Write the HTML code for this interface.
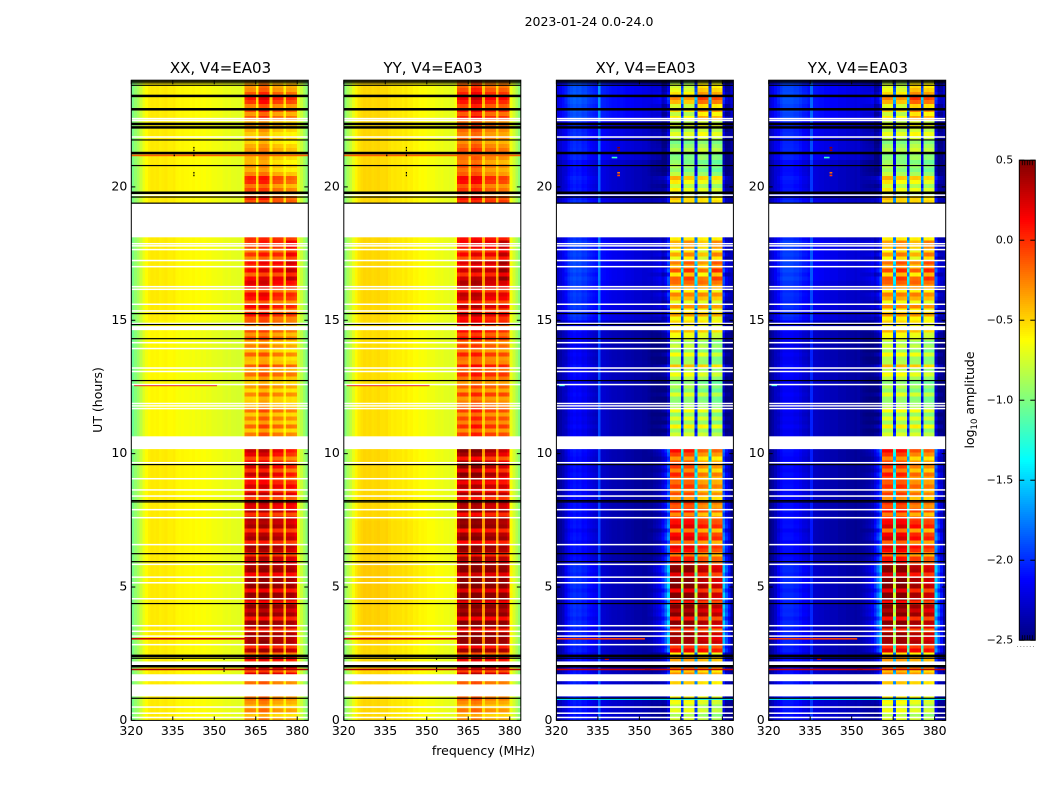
<!DOCTYPE html>
<html lang="en">
<head>
<meta charset="utf-8">
<title>2023-01-24 0.0-24.0</title>
<style>
html,body{margin:0;padding:0;background:#fff;}
svg{display:block;}
text{font-family:"DejaVu Sans","Liberation Sans",sans-serif;fill:#000;}
</style>
</head>
<body>
<svg id="chart" xmlns="http://www.w3.org/2000/svg" width="1050" height="800" viewBox="0 0 1050 800">
<rect x="0" y="0" width="1050" height="800" fill="#fff"/>
<text x="589" y="26" text-anchor="middle" font-size="12.5">2023-01-24 0.0-24.0</text>
<text x="483.5" y="755" text-anchor="middle" font-size="12.5">frequency (MHz)</text>
<text transform="translate(102,400) rotate(-90)" text-anchor="middle" font-size="12.5">UT (hours)</text>
<text transform="translate(974,400) rotate(-90)" text-anchor="middle" font-size="12.5">log<tspan font-size="8.5" dy="3">10</tspan><tspan dy="-3"> amplitude</tspan></text>
<g id="panels"></g>
<g id="colorbar"></g>
</svg>
<script>
// ---- Chart data ----
const panelTitles = ["XX, V4=EA03", "YY, V4=EA03", "XY, V4=EA03", "YX, V4=EA03"];
const xTickLabels = [320, 335, 350, 365, 380];
const yTickLabels = [0, 5, 10, 15, 20];
const colorbarTickLabels = [0.5, 0.0, -0.5, -1.0, -1.5, -2.0, -2.5];
const freqStartMHz = 320;
const freqEndMHz = 384;
const hourEnd = 24;
const rowHours = 0.15;
const colorMin = -2.5;
const colorMax = 0.5;

// Per-channel (1 MHz) baseline spectra, log10 amplitude
const coSpectrumXX = [-1.02,-0.94,-0.88,-0.78,-0.68,-0.62,-0.58,-0.56,-0.57,-0.56,-0.58,-0.57,-0.56,-0.58,-0.58,-0.57,-0.6,-0.61,-0.6,-0.61,-0.61,-0.62,-0.61,-0.63,-0.62,-0.64,-0.63,-0.65,-0.64,-0.66,-0.66,-0.67,-0.66,-0.68,-0.69,-0.68,-0.7,-0.7,-0.71,-0.71,-0.66,-0.04,0,0,-0.02,-0.5,0.02,0.03,0.03,0,-0.5,0,-0.02,-0.02,-0.04,-0.5,-0.05,-0.04,-0.06,-0.1,-0.68,-0.78,-0.88,-0.98];
const coSpectrumYY = [-0.97,-0.87,-0.79,-0.69,-0.6,-0.55,-0.52,-0.5,-0.51,-0.5,-0.52,-0.51,-0.5,-0.52,-0.52,-0.51,-0.54,-0.56,-0.55,-0.56,-0.56,-0.58,-0.56,-0.59,-0.58,-0.61,-0.6,-0.63,-0.62,-0.63,-0.65,-0.65,-0.65,-0.67,-0.68,-0.67,-0.69,-0.69,-0.7,-0.7,-0.64,-0.04,0,0,-0.02,-0.45,0,0.02,0,-0.02,-0.45,-0.02,-0.03,-0.03,-0.04,-0.45,-0.04,-0.04,-0.05,-0.1,-0.66,-0.76,-0.86,-0.96];
const crossSpectrumXY = [-2.45,-2.38,-2.32,-2.2,-2.1,-2.05,-2.02,-2.05,-2.03,-2.08,-2.07,-2.12,-2.15,-2.18,-2.2,-1.9,-2.25,-2.26,-2.28,-2.3,-2.32,-2.32,-2.33,-2.32,-2.33,-2.35,-2.35,-2.36,-2.38,-2.38,-2.38,-2.4,-2.4,-2.38,-2.38,-2.33,-2.3,-2.25,-2.15,-2,-1.75,0,0.02,0.02,0,-1.2,0.02,0.03,0.03,0.02,-1.2,0,0.02,0,-0.02,-1.2,0,0.02,0,-0.02,-1.75,-2.05,-2.2,-2.42];
const crossSpectrumYX = [-2.45,-2.38,-2.3,-2.18,-2.1,-2.05,-2.05,-2.05,-2.05,-2.08,-2.08,-2.12,-2.17,-2.18,-2.22,-2.02,-2.27,-2.28,-2.3,-2.3,-2.32,-2.32,-2.33,-2.33,-2.33,-2.36,-2.36,-2.36,-2.38,-2.38,-2.38,-2.4,-2.38,-2.38,-2.36,-2.33,-2.3,-2.25,-2.15,-2,-1.75,0,0.02,0.02,0,-1.2,0.02,0.03,0.02,0,-1.2,0,0.02,0.02,0,-1.2,0,0.02,0,-0.02,-1.75,-2.05,-2.2,-2.42];
// Response of each channel to the time-varying band level
const coBandGain = [0,0,0,0,0,0,0,0,0,0,0,0,0,0,0,0,0,0,0,0,0,0,0,0,0,0,0,0,0,0,0,0,0,0,0,0,0,0,0,0,0.05,0.9,1,1,1,0.3,1,1,1,1,0.3,1,1,1,1,0.3,1,1,1,0.9,0.05,0,0,0];
const crossBandGain = [0,0,0,0.1,0.1,0.1,0.1,0.1,0.1,0.1,0.1,0.1,0.1,0.1,0.1,0,0,0,0,0,0,0,0,0,0,0,0,0,0,0,0,0,0,0.05,0.1,0.15,0.2,0.25,0.35,0.5,0.6,1,1,1,1,1,1,1,1,1,1,1,1,1,1,1,1,1,1,1,0.6,0.5,0.3,0.1];

// Band level per 0.15 h row, hour 0 first
const bandLevelXX = [
-0.3,-0.45,-0.25,-0.4,-0.3,-0.2,-0.4,-0.3,-0.4,-0.2,
0.1,0.22,-0.1,0.2,0,0.15,-0.2,0.35,0.02,0.4,
0.38,0.42,0.02,0.36,0.44,0.08,0.44,0.3,0.46,0.1,
0.42,0.46,0.12,0.46,0.38,0.46,0.15,0.44,0.4,0.2,
0.32,-0.02,0.34,0.4,0.02,0.38,0.3,0,0.38,0.3,
0.32,-0.05,0.3,0.18,0.28,-0.08,0.25,0,0.2,0.05,
0,0.22,-0.08,0.18,0.05,-0.15,0.12,0.22,0.28,0,
-0.38,-0.18,-0.42,-0.12,-0.4,-0.2,-0.42,-0.15,-0.35,-0.42,
-0.45,-0.22,-0.48,-0.28,-0.45,-0.38,-0.15,-0.35,-0.1,-0.4,
-0.42,-0.15,-0.44,-0.25,-0.4,-0.12,-0.3,-0.1,-0.25,-0.12,
-0.15,0.08,-0.15,0.12,-0.2,0.05,0.12,-0.15,0.12,0.2,
0.25,-0.05,0.25,0.08,0.2,-0.15,0.1,-0.15,0.05,0.1,
0,0,0,0,0,0,0,0,0,-0.1,
-0.02,-0.28,-0.1,-0.25,-0.02,0.02,-0.28,-0.42,-0.35,-0.45,
-0.38,-0.46,-0.28,-0.35,-0.46,-0.35,-0.45,-0.35,-0.28,-0.38,
-0.15,-0.32,-0.1,-0.25,-0.02,0.08,-0.12,-0.28,-0.32,-0.4];
const bandLevelYY = [
-0.3,-0.42,-0.22,-0.38,-0.28,-0.15,-0.35,-0.28,-0.36,-0.15,
0.12,0.28,-0.05,0.25,0.05,0.2,-0.15,0.42,0.1,0.46,
0.46,0.49,0.1,0.44,0.5,0.15,0.5,0.4,0.5,0.2,
0.5,0.5,0.22,0.5,0.46,0.5,0.25,0.5,0.48,0.28,
0.4,0.05,0.42,0.46,0.1,0.48,0.4,0.08,0.47,0.42,
0.44,0.05,0.42,0.3,0.38,0.02,0.36,0.1,0.32,0.12,
0.3,0.44,0.12,0.4,0.32,0,0.32,0.44,0.46,0.12,
-0.18,0,-0.24,0.05,-0.2,-0.02,-0.25,0,-0.12,-0.2,
-0.28,0,-0.3,-0.1,-0.28,-0.16,0.05,-0.14,0.1,-0.2,
-0.2,0.04,-0.25,-0.06,-0.2,0.08,-0.08,0.12,0,0.14,
0.08,0.28,0.02,0.32,0,0.24,0.3,0.04,0.28,0.34,
0.38,0.1,0.38,0.18,0.34,0,0.26,0.04,0.2,0.26,
0.1,0.1,0.1,0.1,0.1,0.1,0.1,0.1,0.1,0,
0.04,-0.18,-0.04,-0.15,0.08,0.12,-0.16,-0.24,-0.14,-0.26,
-0.16,-0.26,-0.06,-0.16,-0.26,-0.14,-0.22,-0.14,-0.06,-0.18,
0.04,-0.14,0.06,-0.08,0.08,0.18,0.04,-0.08,-0.16,-0.2];
const bandLevelXY = [
-0.8,-0.95,-0.75,-0.9,-0.72,-0.65,-0.85,-0.8,-0.75,-0.55,
-0.5,-0.35,-0.55,-0.3,-0.45,-0.4,-0.65,0.1,-0.1,0.32,
0.3,0.38,-0.1,0.3,0.42,0,0.44,0.28,0.44,0,
0.4,0.44,0.05,0.46,0.38,0.44,0.1,0.42,0.38,-0.05,
-0.05,-0.35,0,0.1,-0.3,0.12,0.02,-0.35,0.12,0,
-0.05,-0.4,-0.05,-0.25,-0.15,-0.45,-0.2,-0.38,-0.15,-0.3,
-0.3,-0.12,-0.42,-0.2,-0.28,-0.48,-0.22,-0.05,0.05,-0.35,
-1,-0.82,-0.98,-0.65,-1,-0.78,-1.02,-0.72,-0.95,-1.02,
-1.02,-0.78,-1.05,-0.92,-1.05,-0.92,-0.72,-0.95,-0.5,-0.95,
-0.98,-0.72,-1.02,-0.86,-1,-0.78,-0.74,-0.5,-0.72,-0.6,
-0.72,-0.4,-0.72,-0.35,-0.78,-0.5,-0.32,-0.7,-0.4,-0.25,
-0.2,-0.6,-0.15,-0.48,-0.28,-0.72,-0.4,-0.7,-0.48,-0.42,
-0.6,-0.6,-0.6,-0.6,-0.6,-0.6,-0.6,-0.6,-0.6,-0.55,
-0.55,-0.92,-0.7,-0.9,-0.68,-0.5,-0.92,-1.05,-0.95,-1.05,
-1,-1.05,-0.85,-0.95,-1.05,-0.85,-0.72,-0.88,-0.72,-0.85,
-0.62,-0.85,-0.55,-0.78,-0.45,-0.3,-0.58,-0.72,-0.8,-0.9];
const bandLevelYX = [
-0.76,-0.92,-0.72,-0.86,-0.7,-0.62,-0.8,-0.78,-0.72,-0.52,
-0.46,-0.33,-0.5,-0.27,-0.42,-0.38,-0.6,0.14,-0.06,0.35,
0.33,0.4,-0.06,0.33,0.44,0.02,0.46,0.3,0.46,0.04,
0.42,0.46,0.08,0.48,0.4,0.46,0.14,0.44,0.4,-0.02,
0,-0.32,0.04,0.14,-0.26,0.16,0.06,-0.32,0.16,0.04,
-0.02,-0.36,-0.02,-0.22,-0.12,-0.42,-0.16,-0.34,-0.12,-0.26,
-0.26,-0.08,-0.38,-0.16,-0.24,-0.44,-0.18,-0.02,0.08,-0.32,
-0.98,-0.8,-0.96,-0.64,-0.98,-0.76,-1,-0.7,-0.92,-1,
-1,-0.76,-1.03,-0.9,-1.03,-0.9,-0.7,-0.92,-0.48,-0.92,
-0.96,-0.7,-1,-0.84,-0.98,-0.76,-0.72,-0.48,-0.7,-0.58,
-0.68,-0.36,-0.7,-0.32,-0.74,-0.46,-0.3,-0.66,-0.36,-0.22,
-0.16,-0.56,-0.12,-0.44,-0.24,-0.68,-0.36,-0.66,-0.44,-0.38,
-0.6,-0.6,-0.6,-0.6,-0.6,-0.6,-0.6,-0.6,-0.6,-0.52,
-0.52,-0.9,-0.68,-0.88,-0.66,-0.48,-0.9,-1.02,-0.93,-1.02,
-0.98,-1.03,-0.84,-0.92,-1.02,-0.84,-0.7,-0.86,-0.7,-0.83,
-0.6,-0.82,-0.52,-0.75,-0.42,-0.28,-0.55,-0.7,-0.78,-0.86];

// Sub-band trim for each 1.5 h block: [sub-band 1, 2, 3, 4]
const subBandTrimCo = [[0,0.05,-0.05,-0.05],[0,0.05,0,0],[0,0,0,0],[0,0,0,0],[0.02,0.02,0,-0.02],[0.05,0.05,0,0],[0.08,0.1,-0.02,-0.1],[-0.05,0.05,-0.03,-0.05],[-0.05,0.03,-0.02,-0.03],[0,0.03,-0.05,-0.08],[0.03,0.05,-0.05,-0.05],[-0.12,-0.05,-0.05,0.12],[0,0,0,0],[0.03,0.05,-0.08,-0.12],[-0.03,0.03,-0.08,-0.1],[0,0.12,-0.02,-0.02]];
const subBandTrimCross = [[0.05,0.05,0,-0.05],[0.05,0.05,0,-0.05],[0.05,0.05,-0.05,-0.12],[0.08,0.08,-0.08,-0.18],[0.08,0.08,-0.05,-0.12],[0.1,0.1,-0.05,-0.1],[0.15,0.1,-0.1,-0.12],[0.05,0.05,0.05,-0.02],[0.05,0.05,0,-0.05],[0.08,0.05,0.03,-0.05],[0.05,0.05,0.05,0.02],[0.02,0.12,-0.05,0.15],[0,0,0,0],[0.1,0,0,-0.05],[0,-0.02,0.08,0.02],[0.02,-0.05,0.25,0.2]];
const subBandStartChannels = [41, 46, 51, 56];

// Off-band offset for each 1.5 h block
const offLevelXX = [0,0,0,0,0,0,0,-0.04,-0.04,-0.04,0,0,0,0,0,0];
const offLevelYY = [0,0,0.02,0.04,0.02,0,0,-0.02,-0.02,-0.02,0,0,0,0,0,0];
const offLevelXY = [0.05,0,0,0,-0.05,-0.03,-0.03,-0.02,0,-0.02,0.12,0.15,0.1,0.05,0.12,0.22];
const offLevelYX = [0.05,0,0,0,-0.05,-0.03,-0.03,-0.02,0,-0.02,0.1,0.15,0.1,0.05,0.12,0.2];

// Flagged data: [start hour, end hour]
const whiteGaps = [[18.11,19.39],[14.63,14.78],[10.17,10.65],[2.06,2.21],[1.47,1.73],[0.90,1.35]];
// Flagged single rows: hours
const whiteRows = [22.56,22.49,21.87,19.69,17.87,17.79,17.65,17.24,17.01,16.26,16.16,15.6,15.35,14.88,14.16,13.94,13.21,13.08,12.59,11.88,11.79,11.69,9.66,9.06,8.64,8.41,7.9,7.6,6.59,5.85,5.37,5.16,4.56,3.55,3.34,3.16,2.84,0.5,0.27,0.11];
const blackRowsThin = [23.96,23.9,23.81,21.76,20.8,19.62,19.39,15.25,14.84,14.31,12.74,9.59,8.24,8.19,6.25,5.95,4.38,2.33,0.83];
const blackRowsThick = [23.41,22.91,22.36,22.23,21.27,19.78,2.42,2.03];
// Interference rows: [hour, from MHz, to MHz, log10 amplitude]
const rfiRowsCo = [[21.18,320,384,-0.15],[12.56,321,351,0.2],[3.06,320,361,0.28],[1.91,320,384,0.35]];
const rfiRowsCross = [[12.56,321,323,-1.3],[3.06,320,352,-0.05],[1.91,320,384,0.3],[21.37,342,343,0.4],[21.47,342,343,0.45],[20.53,342,343,-0.2],[20.43,342,343,-0.05],[21.1,340,342,-1.2],[2.3,337.5,339,0.2],[1.92,352,354,0.4],[0.8,320,384,-1.4]];
// Isolated black/red specks: [hour, MHz]
const coSpecks = [[21.47,342.6],[21.37,342.6],[21.18,342.6],[21.18,335.5],[20.53,342.6],[20.43,342.6],[2.3,338.5],[2.3,353.5],[1.95,353.5],[1.85,353.5]];

// ---- Layout and scales ----
const svgNS = "http://www.w3.org/2000/svg";
const panelLefts = [131.3, 343.8, 556.4, 768.7];
const panelWidth = 177;
const plotTop = 80.2;
const plotHeight = 640.2;
const spectra = [coSpectrumXX, coSpectrumYY, crossSpectrumXY, crossSpectrumYX];
const gains = [coBandGain, coBandGain, crossBandGain, crossBandGain];
const bandLevels = [bandLevelXX, bandLevelYY, bandLevelXY, bandLevelYX];
const offLevels = [offLevelXX, offLevelYY, offLevelXY, offLevelYX];
const rfiSets = [rfiRowsCo, rfiRowsCo, rfiRowsCross, rfiRowsCross];
const trims = [subBandTrimCo, subBandTrimCo, subBandTrimCross, subBandTrimCross];

function xScale(left, mhz) { return left + (mhz - freqStartMHz) / (freqEndMHz - freqStartMHz) * panelWidth; }
function yScale(hour) { return plotTop + plotHeight - hour / hourEnd * plotHeight; }
function clamp01(v) { return Math.max(0, Math.min(1, v)); }
function jet(value) {
  const t = clamp01((value - colorMin) / (colorMax - colorMin));
  const r = clamp01(Math.min(4 * t - 1.5, -4 * t + 4.5));
  const g = clamp01(Math.min(4 * t - 0.5, -4 * t + 3.5));
  const b = clamp01(Math.min(4 * t + 0.5, -4 * t + 2.5));
  return "rgb(" + Math.round(r * 255) + "," + Math.round(g * 255) + "," + Math.round(b * 255) + ")";
}
function make(tag, attrs, parent) {
  const el = document.createElementNS(svgNS, tag);
  for (const k in attrs) el.setAttribute(k, attrs[k]);
  parent.appendChild(el);
  return el;
}
function subBandOf(channel) {
  for (let i = subBandStartChannels.length - 1; i >= 0; i--) {
    if (channel >= subBandStartChannels[i] && channel < subBandStartChannels[i] + 4) return i;
  }
  return -1;
}

const panelsRoot = document.getElementById("panels");
panelTitles.forEach(function (title, p) {
  const left = panelLefts[p];
  const g = make("g", {}, panelsRoot);
  
  
  const cells = make("g", { "shape-rendering": "crispEdges" }, g);
  
  

  bandLevels[p].forEach(function (level, r) {
    const hourStart = r * rowHours;
    const block = Math.floor(r / 10);
    const off = offLevels[p][block];
    const yTop = yScale(hourStart + rowHours);
    const yBottom = yScale(hourStart);
    spectra[p].forEach(function (base, c) {
      const sub = subBandOf(c);
      const trim = sub >= 0 ? trims[p][block][sub] : 0;
      const value = base + gains[p][c] * level + trim + (gains[p][c] < 0.3 ? off : 0);
      const x0 = xScale(left, freqStartMHz + c);
      const x1 = xScale(left, freqStartMHz + c + 1);
      const cell = make("rect", { x: x0, y: yTop, width: x1 - x0, height: yBottom - yTop, fill: jet(value) }, cells);
      
      
    });
  });

  rfiSets[p].forEach(function (row) {
    const mark = make("rect", { x: xScale(left, row[1]), y: yScale(row[0]) - 0.8, width: xScale(left, row[2]) - xScale(left, row[1]), height: 1.6, fill: jet(row[3]) }, g);
    
    
  });
  if (p < 2) {
    coSpecks.forEach(function (s) {
      const speck = make("rect", { x: xScale(left, s[1]) - 0.5, y: yScale(s[0]) - 0.8, width: 1.2, height: 1.6, fill: "#000" }, g);
      
      
    });
  }

  whiteGaps.forEach(function (gap) {
    const el = make("rect", { x: left, y: yScale(gap[1]), width: panelWidth, height: yScale(gap[0]) - yScale(gap[1]), fill: "#fff" }, g);
    
    
  });
  whiteRows.forEach(function (hour) {
    const el = make("rect", { x: left, y: yScale(hour) - 0.75, width: panelWidth, height: 1.5, fill: "#fff" }, g);
    
    
  });
  blackRowsThin.forEach(function (hour) {
    const el = make("rect", { x: left, y: yScale(hour) - 0.6, width: panelWidth, height: 1.2, fill: "#000" }, g);
    
    
  });
  blackRowsThick.forEach(function (hour) {
    const el = make("rect", { x: left, y: yScale(hour) - 1.25, width: panelWidth, height: 2.5, fill: "#000" }, g);
    
    
  });

  // Ticks and tick labels
  xTickLabels.forEach(function (tick) {
    const x = xScale(left, tick);
    const bottom = make("line", { x1: x, x2: x, y1: plotTop + plotHeight, y2: plotTop + plotHeight - 4, stroke: "#000", "stroke-width": 1 }, g);
    
    
    const top = make("line", { x1: x, x2: x, y1: plotTop, y2: plotTop + 4, stroke: "#000", "stroke-width": 1 }, g);
    
    
    const label = make("text", { x: x, y: 735, "text-anchor": "middle", "font-size": 12.5 }, g);
    label.textContent = String(tick);
    
    
  });
  yTickLabels.forEach(function (tick) {
    const y = yScale(tick);
    const l = make("line", { x1: left, x2: left + 4, y1: y, y2: y, stroke: "#000", "stroke-width": 1 }, g);
    
    
    const rt = make("line", { x1: left + panelWidth, x2: left + panelWidth - 4, y1: y, y2: y, stroke: "#000", "stroke-width": 1 }, g);
    
    
    const label = make("text", { x: left - 4, y: y + 3.5, "text-anchor": "end", "font-size": 12.5 }, g);
    label.textContent = String(tick);
    
    
  });

  const frame = make("rect", { x: left, y: plotTop, width: panelWidth, height: plotHeight, fill: "none", stroke: "#000", "stroke-width": 1 }, g);
  
  
  const titleEl = make("text", { x: left + panelWidth / 2 + 0.7, y: 73, "text-anchor": "middle", "font-size": 15 }, g);
  titleEl.textContent = title;
  
  
});

// ---- Colorbar ----
const cbRoot = document.getElementById("colorbar");
const cbLeft = 1019.3;
const cbWidth = 16;
const cbTop = 160.2;
const cbHeight = 480;
const cbSteps = 240;
function cbY(value) { return cbTop + (colorMax - value) / (colorMax - colorMin) * cbHeight; }
const cbGrad = make("g", { "shape-rendering": "crispEdges" }, cbRoot);


for (let i = 0; i < cbSteps; i++) {
  const v = colorMax - (i + 0.5) / cbSteps * (colorMax - colorMin);
  const s = make("rect", { x: cbLeft, y: cbTop + i / cbSteps * cbHeight, width: cbWidth, height: cbHeight / cbSteps + 0.3, fill: jet(v) }, cbGrad);
  
  
}
colorbarTickLabels.forEach(function (tick) {
  const y = cbY(tick);
  const a = make("line", { x1: cbLeft, x2: cbLeft + 5, y1: y, y2: y, stroke: "#000", "stroke-width": 1 }, cbRoot);
  
  
  const b = make("line", { x1: cbLeft + cbWidth, x2: cbLeft + cbWidth - 5, y1: y, y2: y, stroke: "#000", "stroke-width": 1 }, cbRoot);
  
  
  const label = make("text", { x: cbLeft - 6, y: y + 3.5, "text-anchor": "end", "font-size": 11 }, cbRoot);
  label.textContent = (tick < 0 ? "\u2212" : "") + Math.abs(tick).toFixed(1);
  
  
});
[cbTop, cbTop + cbHeight].forEach(function (edge, e) {
  for (let k = 0; k < 5; k++) {
    const x = cbLeft + 3 + k * 2.5;
    const t = make("line", { x1: x, x2: x, y1: edge, y2: edge + (e ? -5 : 5), stroke: "#000", "stroke-width": 0.8 }, cbRoot);
    
    
  }
});
const cbFrame = make("rect", { x: cbLeft, y: cbTop, width: cbWidth, height: cbHeight, fill: "none", stroke: "#000", "stroke-width": 1 }, cbRoot);


const cbDots = make("line", { x1: 1017, x2: 1035, y1: 646.5, y2: 646.5, stroke: "#999", "stroke-width": 1, "stroke-dasharray": "1 2.2" }, cbRoot);


</script>
</body>
</html>
